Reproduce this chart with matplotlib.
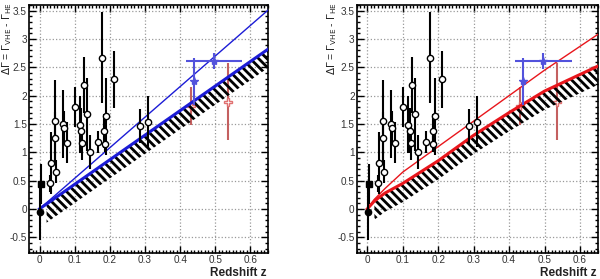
# Spectral index difference vs redshift, two panels (linear / curved EBL model)

import numpy as np
import matplotlib.pyplot as plt
from matplotlib.ticker import MultipleLocator

plt.rcParams['font.family'] = ['Liberation Sans', 'DejaVu Sans']
plt.rcParams['hatch.linewidth'] = 2.0

# Open circles: sources (redshift, delta gamma, error)
src_z = [0.030, 0.034, 0.044, 0.045, 0.048, 0.066, 0.069, 0.079, 0.102, 0.114,
         0.119, 0.122, 0.127, 0.135, 0.143, 0.165, 0.177, 0.184, 0.186, 0.190,
         0.212, 0.286, 0.309]
src_dg = [0.45, 0.81, 1.26, 1.56, 0.66, 1.50, 1.43, 1.17, 1.80, 1.49,
          1.38, 1.17, 2.19, 1.67, 1.00, 1.18, 2.67, 1.37, 1.15, 1.64,
          2.29, 1.47, 1.54]
src_err = [0.15, 0.55, 0.45, 0.71, 0.20, 0.60, 0.30, 0.36, 0.35, 0.50,
           0.40, 0.30, 0.50, 0.65, 0.30, 0.20, 0.80, 0.30, 0.15, 0.68,
           0.50, 0.30, 0.45]

# filled markers near z = 0
sq_z, sq_dg, sq_err = [0.005], [0.44], [0.35]
fc_z, fc_dg, fc_err = [0.001], [-0.05], [0.50]

# blue stars
star_z = [0.440, 0.497]
star_dg = [2.25, 2.61]
star_xerr = [0.0, 0.08]
star_yerr = [0.41, 0.135]

# red open crosses (asymmetric errors)
cross_z = [0.430, 0.535]
cross_dg = [1.81, 1.89]
cross_lo = [0.33, 0.68]
cross_hi = [0.34, 0.68]

# left panel: straight lines
lin_z = [0.0, 0.65]
lin_thin = [0.0, 3.51]
lin_thick = [0.0, 2.82]

# right panel: curved model
cur_z = [0, 0.02, 0.05, 0.1, 0.2, 0.3, 0.4, 0.5, 0.65]
cur_thin = [0, 0.17, 0.36, 0.65, 1.10, 1.55, 2.00, 2.45, 3.08]
cur_thick = [0, 0.14, 0.28, 0.45, 0.85, 1.30, 1.70, 2.08, 2.52]

band_width = 0.33
band_start = 0.02

xticks = [0, 0.1, 0.2, 0.3, 0.4, 0.5, 0.6]
yticks = [-0.5, 0, 0.5, 1, 1.5, 2, 2.5, 3, 3.5]

line_col = {'left': '#1c1cd6', 'right': '#e8161c'}


def draw_panel(ax, mz, mthin, mthick, col):
    # hatched band below thick model curve
    zb = np.linspace(band_start, 0.65, 200)
    up = np.interp(zb, mz, mthick)
    ax.fill_between(zb, up - band_width, up, facecolor='none', edgecolor='black',
                    hatch='\\\\\\\\', linewidth=0, zorder=3)

    ax.errorbar(cross_z, cross_dg, yerr=[cross_lo, cross_hi], fmt='none',
                ecolor='#c46060', elinewidth=1.5, zorder=2)
    ax.plot(cross_z, cross_dg, 'P', ms=6, mfc='white', mec='#e07070', mew=1.0,
            zorder=2, linestyle='none')

    ax.plot(mz, mthin, color=col, lw=1.0, zorder=4)
    ax.plot(mz, mthick, color=col, lw=2.2, zorder=4)

    ax.errorbar(src_z, src_dg, yerr=src_err, fmt='o', ms=4.5, mfc='white',
                mec='black', mew=1.0, ecolor='black', elinewidth=1.5, zorder=5)
    ax.errorbar(sq_z, sq_dg, yerr=sq_err, fmt='s', ms=4.5, color='black',
                elinewidth=1.5, zorder=5)
    ax.errorbar(fc_z, fc_dg, yerr=fc_err, fmt='o', ms=4.5, color='black',
                elinewidth=1.5, zorder=5)

    ax.errorbar(star_z, star_dg, xerr=star_xerr, yerr=star_yerr, fmt='*', ms=6,
                color='#5252dc', ecolor='#5252dc', elinewidth=1.5, zorder=6)

    ax.set_xlim(-0.03, 0.65)
    ax.set_ylim(-0.78, 3.6)
    ax.set_xticks(xticks)
    ax.set_xticklabels([('%g' % t) for t in xticks])
    ax.set_yticks(yticks)
    ax.set_yticklabels([('%g' % t) for t in yticks])
    ax.xaxis.set_minor_locator(MultipleLocator(0.01))
    ax.yaxis.set_minor_locator(MultipleLocator(0.1))
    ax.tick_params(which='both', direction='in', top=True, right=True,
                   labelsize=7.2, labelcolor='#333333', width=1, pad=1.5)
    ax.tick_params(which='major', length=5)
    ax.tick_params(which='minor', length=2.5)
    ax.grid(True, which='major', linestyle=':', color='#999999', lw=0.9)
    for s in ax.spines.values():
        s.set_linewidth(1.2)


fig = plt.figure(figsize=(6.0, 2.79), dpi=100)
ax1 = fig.add_axes([29 / 600, 0.093, 239 / 600, 0.889])
ax2 = fig.add_axes([0.5945, 0.093, 0.4017, 0.889])

draw_panel(ax1, lin_z, lin_thin, lin_thick, line_col['left'])
draw_panel(ax2, cur_z, cur_thin, cur_thick, line_col['right'])

ylab = r'$\Delta\Gamma$ = $\Gamma_{\mathrm{VHE}}$ - $\Gamma_{\mathrm{HE}}$'
for xl, xr in [(7, 267), (332, 597)]:
    fig.text(xl / 600, 1 - 2 / 279, ylab, rotation=90, ha='center', va='top',
             fontsize=7.5, color='#222222')
    fig.text(xr / 600, 1 - 273 / 279, 'Redshift z', ha='right', va='center',
             fontsize=8.5, fontweight='bold', color='#222222')

plt.savefig('out.png', dpi=100)
